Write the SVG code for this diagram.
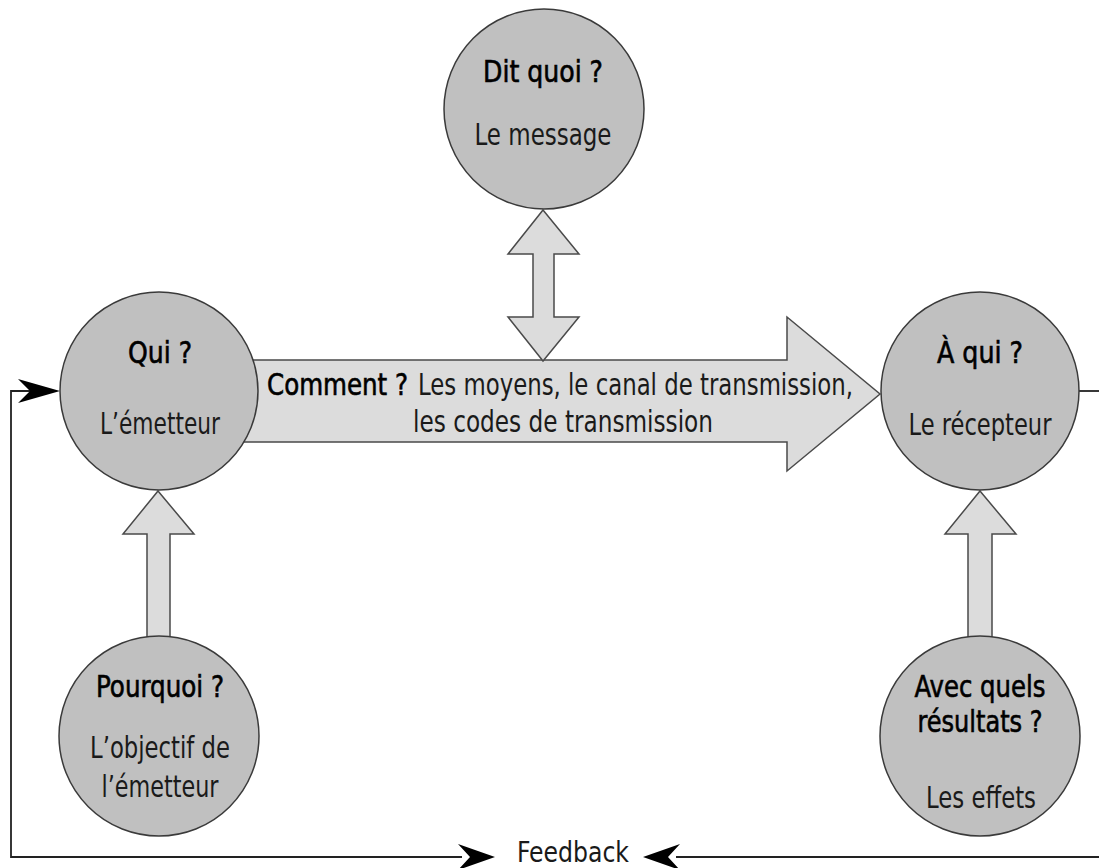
<svg xmlns="http://www.w3.org/2000/svg" width="1099" height="868" viewBox="0 0 1099 868">
<style>
.node{fill:#c0c0c0;stroke:#3a3a3a;stroke-width:1.5}
.arr{fill:#dcdcdc;stroke:#4a4a4a;stroke-width:1.5;stroke-linejoin:miter}
.ln{fill:none;stroke:#222;stroke-width:1.8}
.head{fill:#000}
text{font-family:"DejaVu Sans Condensed","Liberation Sans",sans-serif;font-size:30px;fill:#1a1a1a;text-anchor:middle}
.h{fill:#000;stroke:#000;stroke-width:0.6}
.s{text-anchor:start}
</style>
<rect width="1099" height="868" fill="#fff"/>
<g id="connectors">
  <polyline class="ln" points="462,857 11,857 11,391 30,391"/>
  <path class="head" d="M18,379 L60,391 L18,403 L30,391 Z"/>
  <path class="head" d="M458,844 L495,857 L458,870 L470,857 Z"/>
  <line class="ln" x1="676" y1="857" x2="1099" y2="857"/>
  <path class="head" d="M680,844 L643,857 L680,870 L668,857 Z"/>
  <line class="ln" x1="1079" y1="391" x2="1099" y2="391"/>
  <path id="arrow-comment" class="arr" d="M240,360 L787,360 L787,317 L880,394 L787,471 L787,442 L240,442 Z"/>
  <path id="arrow-message" class="arr" d="M543,210 L579,254 L554,254 L554,317 L579,317 L543,361 L508,317 L533,317 L533,254 L508,254 Z"/>
  <path id="arrow-pourquoi" class="arr" d="M158,491 L194,534 L170,534 L170,640 L147,640 L147,534 L123,534 Z"/>
  <path id="arrow-resultats" class="arr" d="M980,491 L1016,534 L992,534 L992,640 L968,640 L968,534 L945,534 Z"/>
  <text class="h s" x="267" y="395" textLength="141" lengthAdjust="spacingAndGlyphs">Comment ?</text>
  <text class="s" x="418" y="395" textLength="435" lengthAdjust="spacingAndGlyphs">Les moyens, le canal de transmission,</text>
  <text x="563" y="432" textLength="300" lengthAdjust="spacingAndGlyphs">les codes de transmission</text>
</g>
<g id="node-qui">
  <circle class="node" cx="159" cy="391" r="99"/>
  <text class="h" x="160" y="363" textLength="64" lengthAdjust="spacingAndGlyphs">Qui ?</text>
  <text x="160" y="434" textLength="120" lengthAdjust="spacingAndGlyphs">L’émetteur</text>
</g>
<g id="node-message">
  <circle class="node" cx="544" cy="109" r="100"/>
  <text class="h" x="543" y="82" textLength="120" lengthAdjust="spacingAndGlyphs">Dit quoi ?</text>
  <text x="543" y="145" textLength="137" lengthAdjust="spacingAndGlyphs">Le message</text>
</g>
<g id="node-recepteur">
  <circle class="node" cx="980" cy="391" r="99"/>
  <text class="h" x="980" y="363" textLength="86" lengthAdjust="spacingAndGlyphs">À qui ?</text>
  <text x="980" y="435" textLength="143" lengthAdjust="spacingAndGlyphs">Le récepteur</text>
</g>
<g id="node-pourquoi">
  <circle class="node" cx="159" cy="736" r="100"/>
  <text class="h" x="160" y="697" textLength="128" lengthAdjust="spacingAndGlyphs">Pourquoi ?</text>
  <text x="160" y="758" textLength="140" lengthAdjust="spacingAndGlyphs">L’objectif de</text>
  <text x="160" y="797" textLength="117" lengthAdjust="spacingAndGlyphs">l’émetteur</text>
</g>
<g id="node-resultats">
  <circle class="node" cx="980" cy="736" r="100"/>
  <text class="h" x="980" y="697" textLength="131" lengthAdjust="spacingAndGlyphs">Avec quels</text>
  <text class="h" x="980" y="732" textLength="125" lengthAdjust="spacingAndGlyphs">résultats ?</text>
  <text x="981" y="808" textLength="110" lengthAdjust="spacingAndGlyphs">Les effets</text>
</g>
<g id="feedback">
  <text x="573" y="862" style="font-size:28px" textLength="112" lengthAdjust="spacingAndGlyphs">Feedback</text>
</g>
</svg>
